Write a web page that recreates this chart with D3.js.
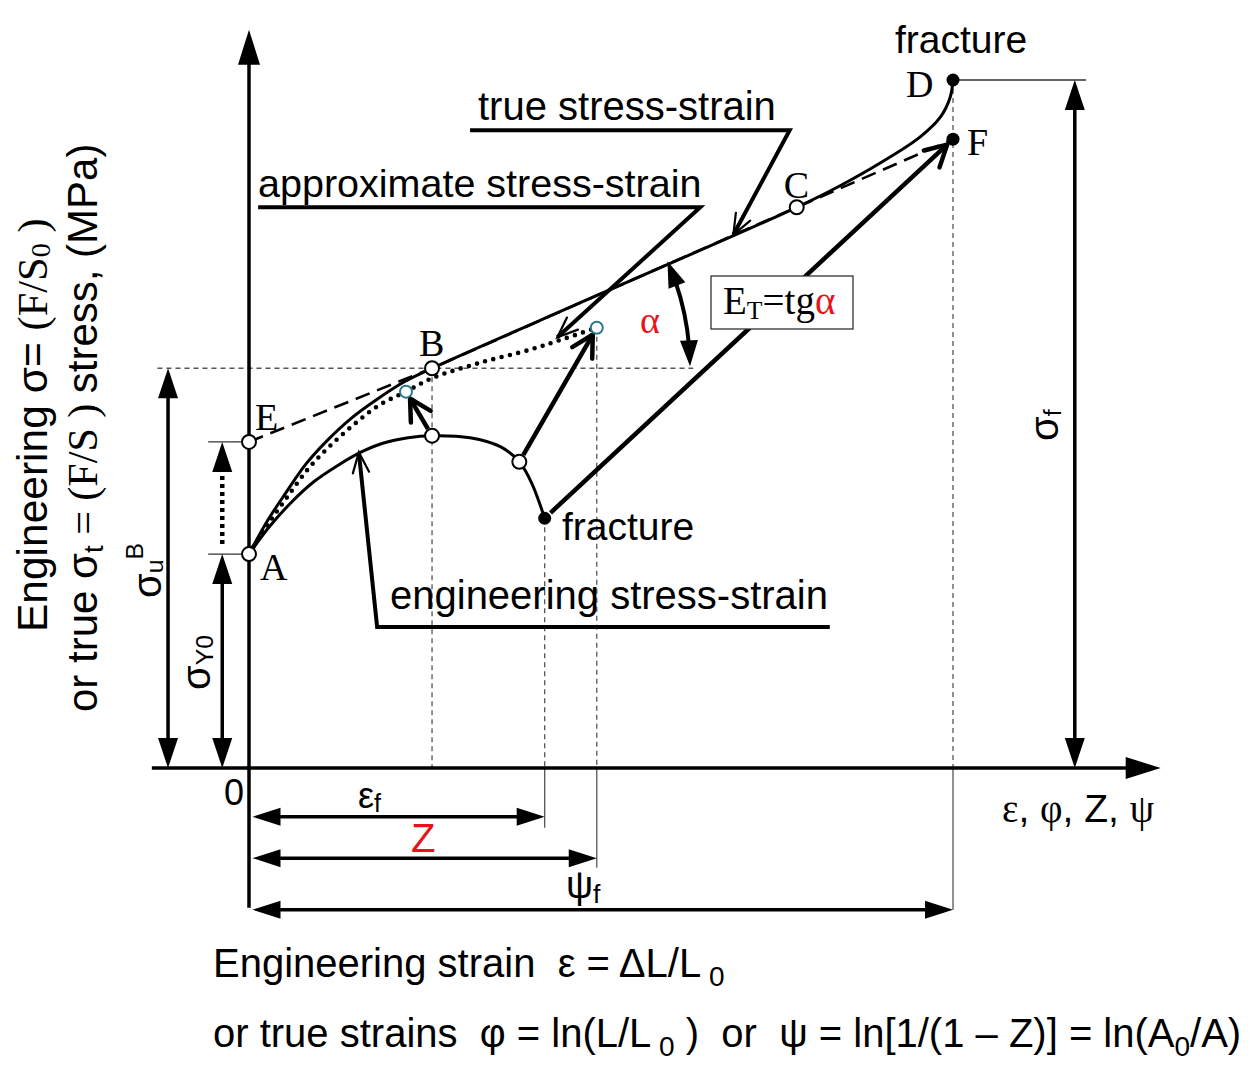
<!DOCTYPE html>
<html>
<head>
<meta charset="utf-8">
<script src="https://cdn.jsdelivr.net/npm/d3@7"></script>
<style>
  body { margin: 0; background: #fff; }
  svg { display: block; }
  text { white-space: pre; }
  .sans { font-family: "Liberation Sans", Arial, sans-serif; }
  .serif { font-family: "Liberation Serif", "Times New Roman", serif; }
</style>
</head>
<body>
<script>
// ---- data (strain units along x, stress units along y, 0..100) ----
var engCurve = [[0, 31.1], [3.0, 35.2], [6.1, 38.7], [9.2, 41.6], [12.5, 43.9], [15.9, 45.9], [19.0, 47.2],
  [22.6, 48.0], [26.0, 48.3], [31.4, 48.0], [35.7, 46.7], [38.4, 44.5], [40.2, 41.3], [42.0, 36.3]];
var trueCurve = [[0, 31.1], [2.6, 35.9], [5.3, 40.1], [8.1, 44.2], [11.2, 47.7], [14.6, 50.9], [18.2, 53.6],
  [22.0, 56.1], [26.0, 58.1], [49.9, 68.9], [77.8, 81.5], [83.9, 84.6], [89.6, 87.9], [95.3, 91.7],
  [98.2, 94.6], [99.6, 97.5], [100, 100]];
var dottedCurve = [[0, 31.1], [2.4, 35.0], [5.3, 39.2], [8.5, 43.6], [11.6, 46.9], [15.1, 50.1], [18.6, 52.8],
  [22.3, 54.7], [26.1, 56.7], [32.8, 58.9], [39.9, 60.8], [44.2, 62.2], [49.4, 64.0]];
var approxLine = [[0, 47.4], [26, 58.1], [77.8, 81.5], [100, 91.4]];

var openPts = [[0, 31.1], [0, 47.4], [26, 58.1], [77.8, 81.5], [26, 48.3], [38.4, 44.5]];
var solidPts = [[100, 100], [100, 91.4], [42, 36.3]];
var bluePts = [[22.3, 54.7], [49.4, 64.0]];
var pointNames = ["A", "E", "B", "C", "D", "F"];

var jumps = [[[26, 48.3], [22.3, 54.7]], [[38.4, 44.5], [49.4, 64.0]], [[42, 36.3], [100, 91.4]]];

var trueLeader = [[31.4, 92.7], [76.8, 92.7], [68.8, 77.5]];
var approxLeader = [[1.3, 81.5], [64.1, 81.5], [43.8, 62.6]];
var engLeader = [[82.5, 20.5], [18.2, 20.5], [15.6, 45.9]];

var dropLines = [[26, 58.1], [42, 36.3], [49.4, 64.0], [100, 100]];
var extLines = [[42, -8.7], [49.4, -14.5], [100, -20.6]];
var vDims = [[-11.5, 0, 58.1], [-3.8, 0, 31.1], [117.3, 0, 100]];
var hDims = [[-7.1, 0.5, 42], [-13.1, 0.5, 49.4], [-20.6, 0.5, 100]];
var axisX = [-13.8, 129.5], axisY = [-20.3, 107.3];

// ---- setup ----
var svg = d3.select("body").append("svg").attr("width", 1256).attr("height", 1080);
var x = d3.scaleLinear().domain([0, 100]).range([249, 953]);
var y = d3.scaleLinear().domain([0, 100]).range([768, 80]);
function P(d) { return [x(d[0]), y(d[1])]; }

var straight = d3.line().x(function (d) { return x(d[0]); }).y(function (d) { return y(d[1]); });
var smooth = d3.line().x(function (d) { return x(d[0]); }).y(function (d) { return y(d[1]); })
  .curve(d3.curveCatmullRom.alpha(0.5));

// filled triangle head, tip at t, pointing along ang
function head(g, t, ang, len, half) {
  var c = Math.cos(ang), s = Math.sin(ang);
  var bx = t[0] - len * c, by = t[1] - len * s;
  g.append("path")
    .attr("d", "M" + t + "L" + [bx - half * s, by + half * c] + "L" + [bx + half * s, by - half * c] + "Z")
    .attr("fill", "#000");
}
// open V head
function vee(g, t, ang, len, spread, sw) {
  var a1 = ang + Math.PI - spread, a2 = ang + Math.PI + spread;
  g.append("path")
    .attr("d", "M" + [t[0] + len * Math.cos(a1), t[1] + len * Math.sin(a1)] + "L" + t +
      "L" + [t[0] + len * Math.cos(a2), t[1] + len * Math.sin(a2)])
    .attr("fill", "none").attr("stroke", "#000").attr("stroke-width", sw)
    .attr("stroke-linejoin", "miter").attr("stroke-linecap", "round");
}
function dim(g, a, b, len, half, both) {
  var ang = Math.atan2(b[1] - a[1], b[0] - a[0]);
  var c = Math.cos(ang), s = Math.sin(ang);
  g.append("line")
    .attr("x1", a[0] + (both ? len * c * 0.8 : 0)).attr("y1", a[1] + (both ? len * s * 0.8 : 0))
    .attr("x2", b[0] - len * c * 0.8).attr("y2", b[1] - len * s * 0.8)
    .attr("stroke", "#000").attr("stroke-width", 3.5);
  head(g, b, ang, len, half);
  if (both) head(g, a, ang + Math.PI, len, half);
}

var guides = svg.append("g");
var marks = svg.append("g");
var labels = svg.append("g");

// ---- guide lines ----
dropLines.forEach(function (d) {
  guides.append("line").attr("x1", x(d[0])).attr("x2", x(d[0])).attr("y1", y(d[1])).attr("y2", y(0))
    .attr("stroke", "#555").attr("stroke-width", 1.3).attr("stroke-dasharray", "5,4");
});
extLines.forEach(function (d) {
  guides.append("line").attr("x1", x(d[0])).attr("x2", x(d[0])).attr("y1", y(0)).attr("y2", y(d[1]))
    .attr("stroke", "#555").attr("stroke-width", 1.3);
});
guides.append("line").attr("x1", x(-13)).attr("x2", x(63.1)).attr("y1", y(58.1)).attr("y2", y(58.1))
  .attr("stroke", "#555").attr("stroke-width", 1.3).attr("stroke-dasharray", "5,4");
[31.1, 47.4].forEach(function (v) {
  guides.append("line").attr("x1", x(-5.8)).attr("x2", x(0)).attr("y1", y(v)).attr("y2", y(v))
    .attr("stroke", "#333").attr("stroke-width", 1.3);
});
guides.append("line").attr("x1", x(100)).attr("x2", x(118.9)).attr("y1", y(100)).attr("y2", y(100))
  .attr("stroke", "#333").attr("stroke-width", 1.3);

// ---- axes ----
marks.append("line").attr("x1", x(axisX[0])).attr("x2", x(axisX[1]) - 30).attr("y1", y(0)).attr("y2", y(0))
  .attr("stroke", "#000").attr("stroke-width", 3.5);
head(marks, [x(axisX[1]), y(0)], 0, 35, 11);
marks.append("line").attr("x1", x(0)).attr("x2", x(0)).attr("y1", y(axisY[0])).attr("y2", y(axisY[1]) + 30)
  .attr("stroke", "#000").attr("stroke-width", 3.5);
head(marks, [x(0), y(axisY[1])], -Math.PI / 2, 35, 11);

// ---- dimension arrows ----
vDims.forEach(function (d) { dim(marks, [x(d[0]), y(d[1])], [x(d[0]), y(d[2])], 30, 10, true); });
hDims.forEach(function (d) { dim(marks, [x(d[1]), y(d[0])], [x(d[2]), y(d[0])], 28, 9, true); });
// dotted yield-jump arrow A -> E level
marks.append("line").attr("x1", x(-3.8)).attr("x2", x(-3.8)).attr("y1", y(31.1) - 10).attr("y2", y(47.4) + 28)
  .attr("stroke", "#000").attr("stroke-width", 4.5).attr("stroke-dasharray", "4,4");
head(marks, [x(-3.8), y(47.4)], -Math.PI / 2, 30, 10);

// ---- curves ----
marks.append("path").attr("d", straight(approxLine)).attr("fill", "none")
  .attr("stroke", "#000").attr("stroke-width", 2.6).attr("stroke-dasharray", "15,8");
marks.append("path").attr("d", smooth(dottedCurve)).attr("fill", "none")
  .attr("stroke", "#000").attr("stroke-width", 4.6).attr("stroke-linecap", "round").attr("stroke-dasharray", "0,8.5");
marks.append("path").attr("d", smooth(trueCurve)).attr("fill", "none")
  .attr("stroke", "#000").attr("stroke-width", 3);
marks.append("path").attr("d", smooth(engCurve)).attr("fill", "none")
  .attr("stroke", "#000").attr("stroke-width", 3);

// ---- leader lines ----
[trueLeader, approxLeader, engLeader].forEach(function (L) {
  marks.append("path").attr("d", straight(L)).attr("fill", "none")
    .attr("stroke", "#000").attr("stroke-width", 4).attr("stroke-linejoin", "miter");
  var a = P(L[L.length - 2]), b = P(L[L.length - 1]);
  vee(marks, b, Math.atan2(b[1] - a[1], b[0] - a[0]), 22, 0.38, 2.2);
});

// ---- jump arrows (engineering -> true) ----
jumps.forEach(function (j) {
  var a = P(j[0]), b = P(j[1]);
  var ang = Math.atan2(b[1] - a[1], b[0] - a[0]);
  var c = Math.cos(ang), s = Math.sin(ang);
  var a2 = [a[0] + 8 * c, a[1] + 8 * s], b2 = [b[0] - 8 * c, b[1] - 8 * s];
  marks.append("line").attr("x1", a2[0]).attr("y1", a2[1]).attr("x2", b2[0]).attr("y2", b2[1])
    .attr("stroke", "#000").attr("stroke-width", 4.5);
  vee(marks, b2, ang, 24, 0.5, 4.5);
});

// ---- angle alpha ----
(function () {
  var cx = x(25), cy = y(58.1), r = 265;
  var e0 = P(approxLine[1]), e1 = P(approxLine[2]);
  var ang = Math.atan2(e1[1] - e0[1], e1[0] - e0[0]);
  var d = 0.085;
  var pth = d3.path();
  pth.arc(cx, cy, r, -d, ang + d, true);
  marks.append("path").attr("d", pth.toString()).attr("fill", "none")
    .attr("stroke", "#000").attr("stroke-width", 4);
  head(marks, [cx + r, cy - 2], Math.PI / 2 - 0.04, 26, 9);
  head(marks, [cx + r * Math.cos(ang), cy + r * Math.sin(ang)],
    Math.atan2(-Math.cos(ang), Math.sin(ang)) + 0.04, 26, 9);
})();

// ---- points ----
marks.selectAll(".open").data(openPts).enter().append("circle")
  .attr("cx", function (d) { return x(d[0]); }).attr("cy", function (d) { return y(d[1]); })
  .attr("r", 7).attr("fill", "#fff").attr("stroke", "#000").attr("stroke-width", 2);
marks.selectAll(".solid").data(solidPts).enter().append("circle")
  .attr("cx", function (d) { return x(d[0]); }).attr("cy", function (d) { return y(d[1]); })
  .attr("r", 6.5).attr("fill", "#000");
marks.selectAll(".blue").data(bluePts).enter().append("circle")
  .attr("cx", function (d) { return x(d[0]); }).attr("cy", function (d) { return y(d[1]); })
  .attr("r", 6).attr("fill", "#fff").attr("stroke", "#2b7a8c").attr("stroke-width", 2);

// ---- texts ----
// parts: t = text, c = class, sh = baseline shift (em, + up), sz = size ratio
function txt(px, py, size, cls, parts, rot) {
  var t = labels.append("text").attr("font-size", size)
    .attr("transform", "translate(" + px + "," + py + ")" + (rot ? " rotate(-90)" : ""));
  parts.forEach(function (p) {
    var s = t.append("tspan").attr("class", p.c || cls).text(p.t);
    if (p.sz) s.attr("font-size", size * p.sz);
    if (p.sh) s.attr("baseline-shift", (p.sh * size).toFixed(1) + "px");
    if (p.fill) s.attr("fill", p.fill);
  });
  return t;
}

var nameOffsets = [[11, 26], [6, -12], [-13, -12], [-13, -9], [-47, 17], [14, 16]];
var namePts = [openPts[0], openPts[1], openPts[2], openPts[3], solidPts[0], solidPts[1]];
pointNames.forEach(function (n, i) {
  txt(x(namePts[i][0]) + nameOffsets[i][0], y(namePts[i][1]) + nameOffsets[i][1], 38, "serif", [{ t: n }]);
});

txt(895, 53, 39, "sans", [{ t: "fracture" }]);
txt(562, 540, 39, "sans", [{ t: "fracture" }]);
txt(478, 120, 40, "sans", [{ t: "true stress-strain" }]);
txt(258, 197, 39.5, "sans", [{ t: "approximate stress-strain" }]);
txt(390, 609, 40, "sans", [{ t: "engineering stress-strain" }]);

txt(640, 333, 38, "serif", [{ t: "α", fill: "#e8141b" }]);
labels.append("rect").attr("x", 711).attr("y", 276).attr("width", 142).attr("height", 53)
  .attr("fill", "#fff").attr("stroke", "#333").attr("stroke-width", 1.3);
txt(723, 314, 39, "serif", [{ t: "E" }, { t: "T", sz: 0.66, sh: -0.12 }, { t: "=tg" }, { t: "α", fill: "#e8141b" }]);

txt(224, 805, 36, "sans", [{ t: "0" }]);
txt(358, 808, 36, "sans", [{ t: "ε" }, { t: "f", sz: 0.7, sh: -0.12 }]);
txt(411, 852, 40, "sans", [{ t: "Z", fill: "#e8141b" }]);
txt(566, 898, 38, "sans", [{ t: "ψ" }, { t: "f", sz: 0.7, sh: -0.12 }]);
txt(1002, 822, 39, "sans", [{ t: "ε", c: "serif" }, { t: ", " }, { t: "φ", c: "serif" }, { t: ", Z, " }, { t: "ψ", c: "serif" }]);

txt(161, 598, 40, "sans", [{ t: "σ" }, { t: "u", sz: 0.62, sh: -0.05 }, { t: "B", sz: 0.62, sh: 0.45 }], true);
txt(210, 690, 40, "sans", [{ t: "σ" }, { t: "Y0", sz: 0.62, sh: -0.08 }], true);
txt(1058, 441, 40, "sans", [{ t: "σ" }, { t: "f", sz: 0.62, sh: -0.08 }], true);

txt(47, 632, 42.5, "sans", [{ t: "Engineering σ= " }, { t: "(F/S", c: "serif" }, { t: "0", c: "serif", sz: 0.66, sh: -0.08 }, { t: " )", c: "serif" }], true);
txt(97, 712, 42, "sans", [{ t: "or true σ" }, { t: "t", sz: 0.66, sh: -0.15 }, { t: " = (F/S ) ", c: "serif" }, { t: "stress, (MPa)" }], true);

txt(213, 977, 40, "sans", [{ t: "Engineering strain  ε = ΔL/L" }, { t: " 0", sz: 0.7, sh: -0.22 }]);
txt(213, 1047, 40, "sans", [{ t: "or true strains  φ = ln(L/L" }, { t: " 0", sz: 0.7, sh: -0.22 }, { t: " )  or  ψ = ln[1/(1 – Z)] = ln(A" },
  { t: "0", sz: 0.7, sh: -0.22 }, { t: "/A)" }]);
</script>
</body>
</html>
